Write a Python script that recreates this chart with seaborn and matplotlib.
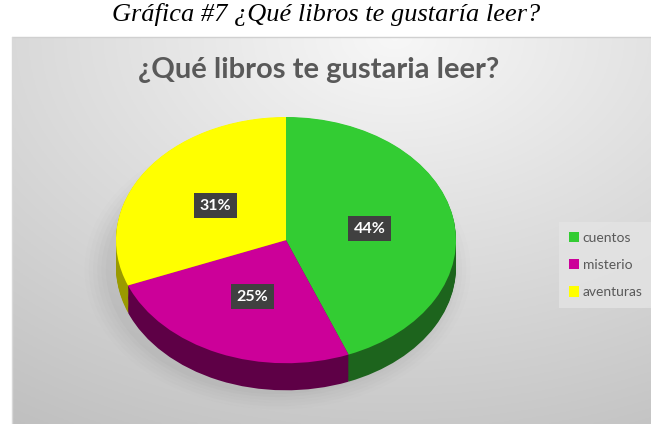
import numpy as np
import matplotlib.pyplot as plt
from matplotlib.patches import Patch, Ellipse
import seaborn as sns

# --- data ---
labels = ["cuentos", "misterio", "aventuras"]
values = [44, 25, 31]
top_colors = ["#33cc33", "#cc0099", "#ffff00"]
side_colors = ["#1d641d", "#5e0046", "#9a9a00"]

sns.set_theme(style="white")
plt.rcParams["font.family"] = ["Lato", "DejaVu Sans"]

W, H = 651, 424
fig = plt.figure(figsize=(W / 100, H / 100), dpi=100)
fig.patch.set_facecolor("white")

# caption above the chart box
fig.text(326 / W, 1 - 14 / H, "Gráfica #7 ¿Qué libros te gustaría leer?",
         ha="center", va="center", fontsize=19, style="italic",
         family=["Liberation Serif", "DejaVu Serif"], color="black")

# --- chart box with soft radial gradient ---
box_top = 37
bg = fig.add_axes([12 / W, 0, 1 - 12 / W, (H - box_top) / H])
gx, gy = np.meshgrid(np.linspace(0, 1, 300), np.linspace(0, 1, 200))
dist = np.sqrt(((gx - 0.6) / 1.1) ** 2 + ((gy - 0.0) / 1.2) ** 2)
shade = 0.97 - 0.22 * dist
bg.imshow(np.dstack([shade] * 3).clip(0, 1), aspect="auto", extent=[0, 1, 1, 0])
bg.set_xlim(0, 1)
bg.set_ylim(1, 0)
bg.axis("off")
fig.add_artist(plt.Line2D([12 / W, 1], [1 - box_top / H] * 2, color="#d0d0d0", lw=1))
fig.add_artist(plt.Line2D([12 / W] * 2, [0, 1 - box_top / H], color="#d8d8d8", lw=1))

fig.text(319 / W, 1 - 70 / H, "¿Qué libros te gustaria leer?", ha="center",
         va="center", fontsize=21, fontweight="bold", color="#595959")

# --- pseudo-3D pie ---
depth = 0.22
ax = fig.add_axes([116 / W, 1 - 394 / H, 340 / W, 277 / H])
ax.set_facecolor("none")

# soft shadow under the pie
for i, a in enumerate(np.linspace(0.05, 0.02, 6)):
    ax.add_patch(Ellipse((-0.05, -0.24), 2.02 + i * 0.05, 2.02 + i * 0.05,
                         fc="#808080", ec="none", alpha=a, zorder=0,
                         clip_on=False))

for k in np.linspace(depth, 0.005, 25):
    ax.pie(values, colors=side_colors, startangle=90, counterclock=False,
           center=(0, -k), wedgeprops=dict(linewidth=0))

wedges, _, autotexts = ax.pie(
    values, colors=top_colors, startangle=90, counterclock=False,
    autopct="%d%%", pctdistance=0.5,
    wedgeprops=dict(linewidth=0),
    textprops=dict(color="white", fontsize=11.5, fontweight="bold"),
)
for t in autotexts:
    t.set_bbox(dict(boxstyle="square,pad=0.35", fc="#404040", ec="none"))

ax.set_xlim(-1, 1)
ax.set_ylim(-1 - depth - 0.03, 1)
ax.set_aspect("auto")
ax.axis("off")

# --- legend ---
handles = [Patch(facecolor=c, edgecolor="none") for c in top_colors]
leg = fig.legend(handles, labels, loc="center left",
                 bbox_to_anchor=(559 / W, 1 - 265 / H),
                 frameon=True, fontsize=10, handlelength=0.75,
                 handleheight=0.75, handletextpad=0.25, labelspacing=1.1,
                 borderpad=0.7, borderaxespad=0, fancybox=False)
leg.get_frame().set_facecolor("#e4e4e4")
leg.get_frame().set_edgecolor("none")
for t in leg.get_texts():
    t.set_color("#595959")

fig.savefig("out.png", dpi=100)
